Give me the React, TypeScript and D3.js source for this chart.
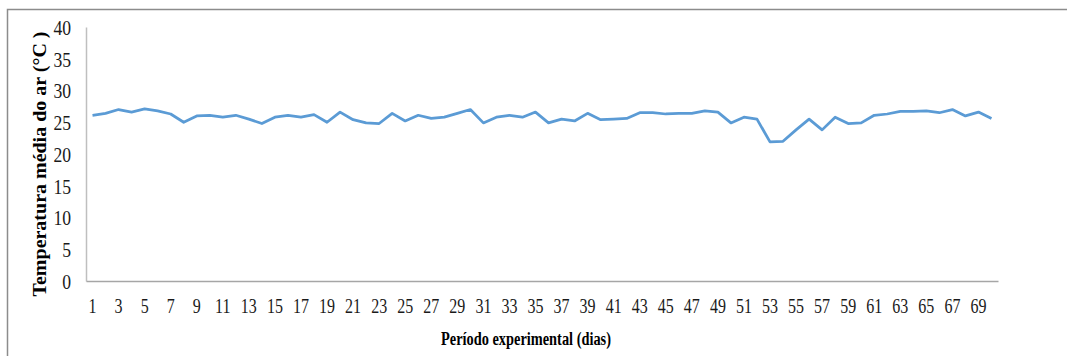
import React, { useEffect, useRef } from "react";
import * as d3 from "d3";

const days: number[] = Array.from({ length: 70 }, (_, i) => i + 1);
const temperatures: number[] = [
  26.1, 26.4, 27.0, 26.6, 27.1, 26.8, 26.3, 25.0, 26.0, 26.1,
  25.8, 26.1, 25.5, 24.8, 25.8, 26.1, 25.8, 26.2, 25.0, 26.6,
  25.4, 24.9, 24.8, 26.4, 25.2, 26.1, 25.6, 25.8, 26.4, 27.0,
  24.9, 25.8, 26.1, 25.8, 26.6, 24.9, 25.5, 25.2, 26.4, 25.4,
  25.5, 25.6, 26.5, 26.5, 26.3, 26.4, 26.4, 26.8, 26.6, 24.9,
  25.8, 25.5, 21.9, 22.0, 23.8, 25.5, 23.8, 25.8, 24.8, 24.9,
  26.1, 26.3, 26.7, 26.7, 26.8, 26.5, 27.0, 26.0, 26.6, 25.6,
];
const xTickLabels: number[] = days.filter((d) => d % 2 === 1);
const yTickValues: number[] = [0, 5, 10, 15, 20, 25, 30, 35, 40];
const xTitle = "Período experimental (dias)";
const yTitle = "Temperatura média do ar (°C )";

export default function App() {
  const ref = useRef<SVGSVGElement | null>(null);

  useEffect(() => {
    const svg = d3.select(ref.current);
    svg.selectAll("*").remove();
    const W = 1067, H = 356;
    const left = 86, right = 998, top = 27, bottom = 281;

    svg.append("rect")
      .attr("x", 7.5).attr("y", 9.5)
      .attr("width", W + 10).attr("height", H + 10)
      .attr("fill", "none").attr("stroke", "#8c8c8c").attr("stroke-width", 1.5);

    const x = d3.scaleBand<number>().domain(days).range([left, right]).padding(0);
    const y = d3.scaleLinear().domain([0, 40]).range([bottom, top]);

    const font = "'Liberation Serif', 'Times New Roman', serif";

    const gy = svg.append("g").attr("transform", `translate(${left},0)`)
      .call(d3.axisLeft(y).tickValues(yTickValues).tickSize(0).tickPadding(0).tickFormat(d3.format("d")));
    gy.attr("font-family", font);
    gy.select(".domain").attr("stroke", "#bfbfbf").attr("stroke-width", 1.5);
    gy.selectAll("text")
      .attr("font-family", font).attr("font-size", 22).attr("fill", "#1a1a1a")
      .attr("x", -15 / 0.8).attr("dy", "0.34em")
      .attr("transform", "scale(0.8,1)");

    const gx = svg.append("g").attr("transform", `translate(0,${bottom})`)
      .call(d3.axisBottom(x).tickValues(xTickLabels).tickSize(0).tickPadding(0));
    gx.attr("font-family", font);
    gx.select(".domain").attr("stroke", "#a6a6a6").attr("stroke-width", 1.5);
    gx.selectAll("text")
      .attr("font-family", font).attr("font-size", 20).attr("fill", "#1a1a1a")
      .attr("y", 32).attr("dy", 0)
      .attr("transform", "scale(0.8,1)");

    const line = d3.line<number>()
      .x((_, i) => (x(days[i]) as number) + x.bandwidth() / 2)
      .y((d) => y(d));
    svg.append("path")
      .datum(temperatures)
      .attr("d", line)
      .attr("fill", "none")
      .attr("stroke", "#5B9BD5")
      .attr("stroke-width", 2.75)
      .attr("stroke-linejoin", "round");

    svg.append("text")
      .attr("x", 526).attr("y", 345)
      .attr("text-anchor", "middle")
      .attr("font-family", font).attr("font-weight", "bold").attr("font-size", 18)
      .attr("textLength", 170).attr("lengthAdjust", "spacingAndGlyphs")
      .text(xTitle);

    svg.append("text")
      .attr("transform", `translate(46,${164}) rotate(-90)`)
      .attr("text-anchor", "middle")
      .attr("font-family", font).attr("font-weight", "bold").attr("font-size", 18)
      .attr("textLength", 265).attr("lengthAdjust", "spacingAndGlyphs")
      .text(yTitle);
  }, []);

  return (
    <svg
      ref={ref}
      width={1067}
      height={356}
      style={{ position: "absolute", left: 0, top: 0, background: "#fff" }}
    />
  );
}
